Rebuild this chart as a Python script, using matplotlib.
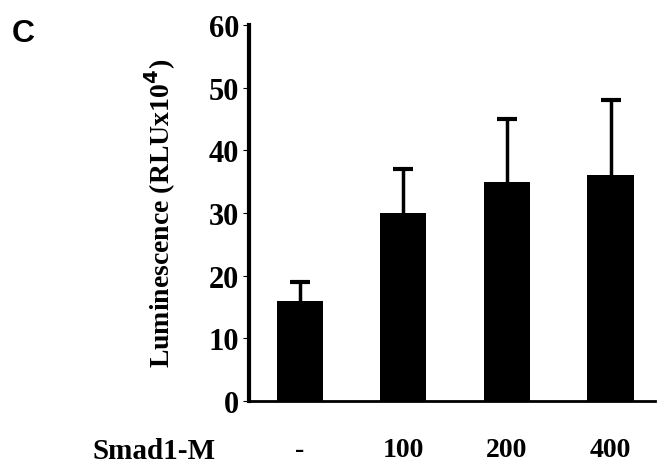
import matplotlib.pyplot as plt
import numpy as np

labels = ["-", "100", "200", "400"]
values = [16, 30, 35, 36]
errors = [3, 7, 10, 12]

plt.rcParams['font.family'] = 'Liberation Serif'
plt.rcParams['font.weight'] = 'bold'

fig = plt.figure(figsize=(6.59, 4.64), dpi=100)
ax = fig.add_axes([0.378, 0.134, 0.616, 0.81])

x = np.arange(len(labels))
# error bars drawn behind the bars, so only the upper half shows
ax.errorbar(x, values, yerr=errors, fmt='none',
            ecolor='black', elinewidth=2.5, capsize=7, capthick=3, zorder=1)
ax.bar(x, values, width=0.445, color='black', zorder=2)

ax.set_xlim(-0.49, 3.43)
ax.set_ylim(0, 60)
ax.set_yticks(range(0, 61, 10))
ax.set_xticks(x)
ax.set_xticklabels(labels)

for s in ['top', 'right']:
    ax.spines[s].set_visible(False)
ax.spines['left'].set_linewidth(3)
ax.spines['bottom'].set_linewidth(2)

ax.tick_params(axis='y', length=4, width=0.8, pad=3, labelsize=22)
ax.tick_params(axis='x', length=0, pad=26, labelsize=20)

ax.set_ylabel('Luminescence (RLUx10$^{\\mathbf{4}}$)', fontsize=20,
              fontweight='bold', labelpad=22)

fig.text(0.327, 1 - 452 / 464, 'Smad1-M', fontsize=21, fontweight='bold',
         ha='right', va='center')
fig.text(0.018, 0.96, 'C', fontsize=23, fontweight='bold',
         family='Liberation Sans', va='top')

fig.savefig('out.png', dpi=100)
